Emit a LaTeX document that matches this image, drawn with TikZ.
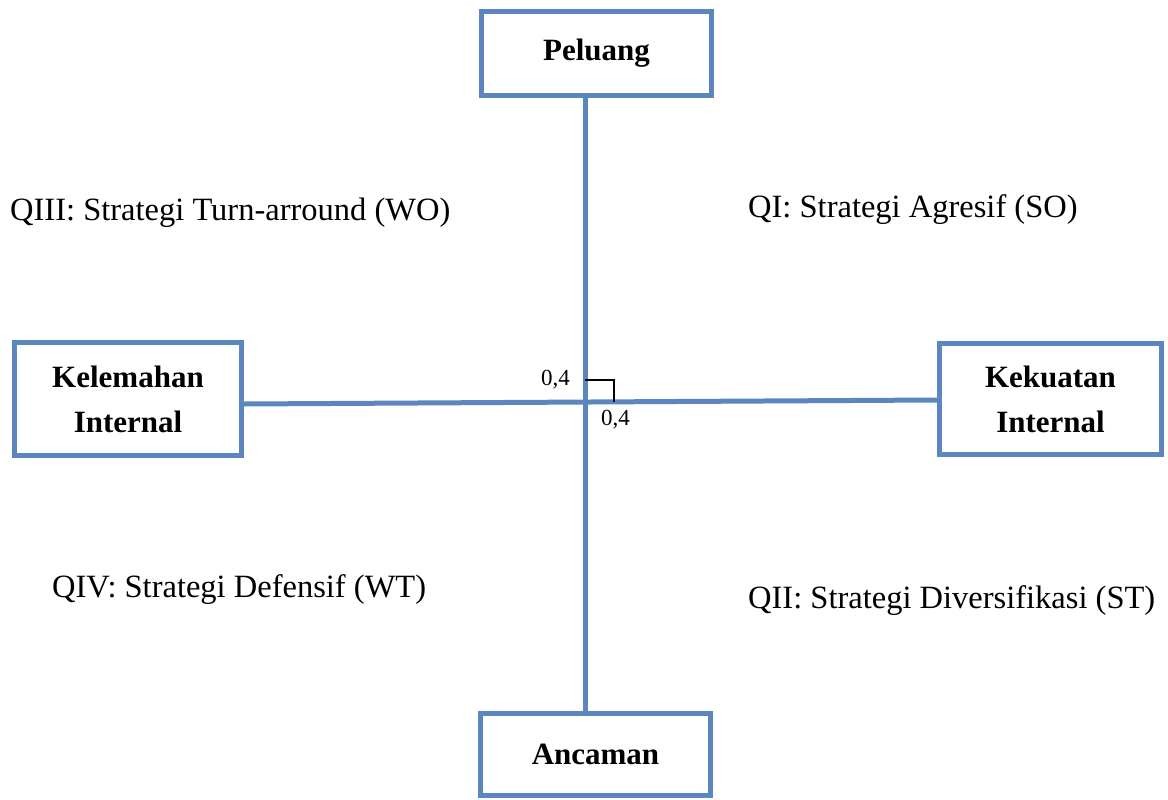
\documentclass[tikz,border=0pt]{standalone}
\usepackage{fontspec}
\setmainfont{Liberation Serif}
\usepackage{xcolor}
\definecolor{mainblue}{HTML}{5B86BE}
\definecolor{darkgray}{HTML}{111111}

\begin{document}
\begin{tikzpicture}[x=1pt, y=-1pt,
    axisbox/.style={draw=mainblue, line width=5pt, fill=white, inner sep=0, align=center,
        font=\bfseries\fontsize{31}{45}\selectfont},
    axisline/.style={draw=mainblue, line width=5pt},
    quadtext/.style={anchor=west, inner sep=0, font=\fontsize{32.5}{38}\selectfont},
    smalltext/.style={inner sep=0, font=\fontsize{23}{27}\selectfont}]
    \useasboundingbox (0,0) rectangle (1168,800);

    % centre of the cross
    \coordinate (origin) at (585,402);

    \node[axisbox, minimum width=230pt, minimum height=84pt] (peluang) at (596.5,53.5) {Peluang};
    \node[axisbox, minimum width=230pt, minimum height=82pt] (ancaman) at (595.5,754.5) {Ancaman};
    \node[axisbox, minimum width=227pt, minimum height=113pt] (kelemahan) at (128,399) {Kelemahan\\Internal};
    \node[axisbox, minimum width=222pt, minimum height=111pt] (kekuatan) at (1050.5,399) {Kekuatan\\Internal};

    \draw[axisline] (peluang.south -| origin) -- (ancaman.north -| origin);
    \draw[axisline] ([yshift=-5pt]kelemahan.east) -- ([yshift=-1pt]kekuatan.west);

    % point (0,4 ; 0,4)
    \coordinate (mark) at (614,380);
    \draw[black, line width=2pt] (mark -| origin) -- (mark) -- (mark |- origin);
    \node[smalltext, anchor=east] (xval) at (570,380) {0,4};
    \node[smalltext, anchor=west] (yval) at (601,420) {0,4};

    \node[quadtext] (q3) at (10,213) {QIII: Strategi Turn-arround (WO)};
    \node[quadtext] (q1) at (748,210) {QI: Strategi Agresif (SO)};
    \node[quadtext] (q4) at (52,590) {QIV: Strategi Defensif (WT)};
    \node[quadtext] (q2) at (748,601) {QII: Strategi Diversifikasi (ST)};
\end{tikzpicture}
\end{document}
